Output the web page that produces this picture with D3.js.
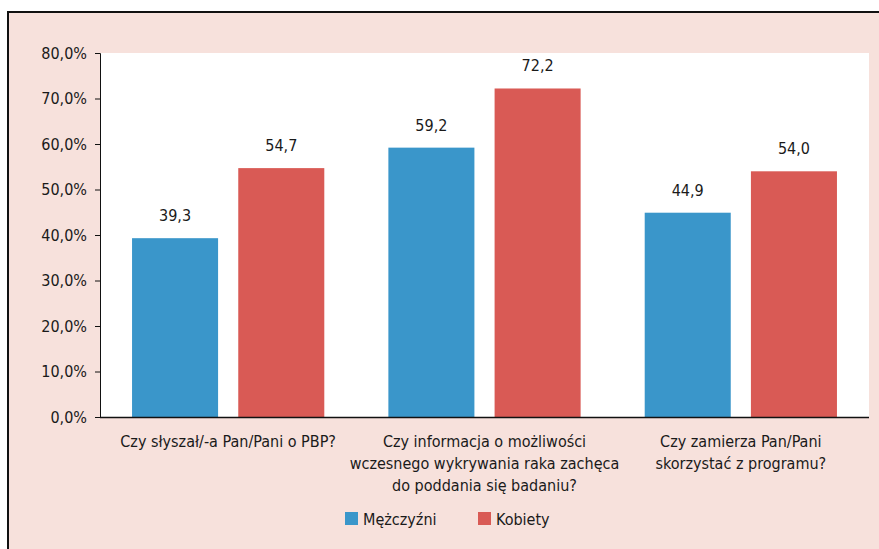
<!DOCTYPE html>
<html>
<head>
<meta charset="utf-8">
<script src="https://cdn.jsdelivr.net/npm/d3@7"></script>
<style>
  body { margin: 0; background: #fff; }
  svg text { font-family: "Liberation Sans Narrow", "DejaVu Sans Condensed", "Arial Narrow", sans-serif; fill: #1a1a1a; }
</style>
</head>
<body>
<div id="chart"></div>
<script>
// data
var categories = [
  ["Czy słyszał/-a Pan/Pani o PBP?"],
  ["Czy informacja o możliwości", "wczesnego wykrywania raka zachęca", "do poddania się badaniu?"],
  ["Czy zamierza Pan/Pani", "skorzystać z programu?"]
];
var seriesNames = ["Mężczyźni", "Kobiety"];
var men = [39.3, 59.2, 44.9];
var women = [54.7, 72.2, 54.0];
var yTicks = [0, 10, 20, 30, 40, 50, 60, 70, 80];

var colors = ["#3a96ca", "#d95a55"];
var W = 879, H = 549;
var plot = {left: 100, right: 869, top: 53, bottom: 417};

var svg = d3.select("#chart").append("svg")
    .attr("width", W)
    .attr("height", H);

// pink frame
svg.append("rect")
    .attr("x", 8).attr("y", 12)
    .attr("width", W).attr("height", H)
    .attr("fill", "#f7e1dc")
    .attr("stroke", "#111")
    .attr("stroke-width", 2);

svg.append("rect")
    .attr("x", plot.left).attr("y", plot.top)
    .attr("width", plot.right - plot.left)
    .attr("height", plot.bottom - plot.top)
    .attr("fill", "#fff");

var rows = categories.map(function(c, i){
  return {key: i, label: c, values: [men[i], women[i]]};
});

var x0 = d3.scaleBand()
    .domain(d3.range(categories.length))
    .range([plot.left, plot.right])
    .paddingInner(0.25)
    .paddingOuter(0.125);

var x1 = d3.scaleBand()
    .domain([0, 1])
    .range([0, x0.bandwidth()])
    .paddingInner(0.19)
    .paddingOuter(0);

var y = d3.scaleLinear().domain([0, 80]).range([plot.bottom, plot.top]);

var fmtComma = function(v, d){ return v.toFixed(d).replace(".", ","); };

// y axis
var yAxis = d3.axisLeft(y)
    .tickValues(yTicks)
    .tickSize(5)
    .tickPadding(8)
    .tickFormat(function(d){ return fmtComma(d, 1) + "%"; });

var gy = svg.append("g")
    .attr("transform", "translate(" + plot.left + ",0)")
    .call(yAxis);
gy.select(".domain").attr("stroke", "#111");
gy.selectAll(".tick line").attr("stroke", "#111");
gy.selectAll(".tick text")
    .style("font-size", "16px")
    .attr("fill", "#1a1a1a");

// bars
var groups = svg.selectAll(".grp")
    .data(rows)
    .enter().append("g")
    .attr("class", "grp")
    .attr("transform", function(d){ return "translate(" + x0(d.key) + ",0)"; });

groups.selectAll("rect")
    .data(function(d){ return d.values.map(function(v, j){ return {s: j, v: v}; }); })
    .enter().append("rect")
    .attr("x", function(d){ return x1(d.s); })
    .attr("y", function(d){ return y(d.v); })
    .attr("width", x1.bandwidth())
    .attr("height", function(d){ return plot.bottom - y(d.v); })
    .attr("fill", function(d){ return colors[d.s]; });

groups.selectAll(".val")
    .data(function(d){ return d.values.map(function(v, j){ return {s: j, v: v}; }); })
    .enter().append("text")
    .attr("class", "val")
    .attr("x", function(d){ return x1(d.s) + x1.bandwidth() / 2; })
    .attr("y", function(d){ return y(d.v) - 17; })
    .attr("text-anchor", "middle")
    .style("font-size", "16px")
    .text(function(d){ return fmtComma(d.v, 1); });

// x axis line
svg.append("line")
    .attr("x1", plot.left).attr("x2", plot.right)
    .attr("y1", plot.bottom + 0.5).attr("y2", plot.bottom + 0.5)
    .attr("stroke", "#111")
    .attr("stroke-width", 1.5);

// category labels
var cl = svg.selectAll(".cat")
    .data(rows)
    .enter().append("text")
    .attr("class", "cat")
    .attr("text-anchor", "middle")
    .attr("x", function(d){ return x0(d.key) + x0.bandwidth() / 2; })
    .attr("y", 447)
    .style("font-size", "16px");

cl.selectAll("tspan")
    .data(function(d){ return d.label; })
    .enter().append("tspan")
    .attr("x", function(){ var p = this.parentNode; return p.getAttribute("x"); })
    .attr("dy", function(d, i){ return i === 0 ? 0 : 22; })
    .text(function(d){ return d; });

// legend
var legendX = [345, 478];
var legend = svg.selectAll(".legend")
    .data(seriesNames)
    .enter().append("g")
    .attr("class", "legend")
    .attr("transform", function(d, i){ return "translate(" + legendX[i] + ",512)"; });

legend.append("rect")
    .attr("width", 13).attr("height", 13)
    .attr("fill", function(d, i){ return colors[i]; });

legend.append("text")
    .attr("x", 18).attr("y", 13)
    .style("font-size", "16px")
    .text(function(d){ return d; });
</script>
</body>
</html>
